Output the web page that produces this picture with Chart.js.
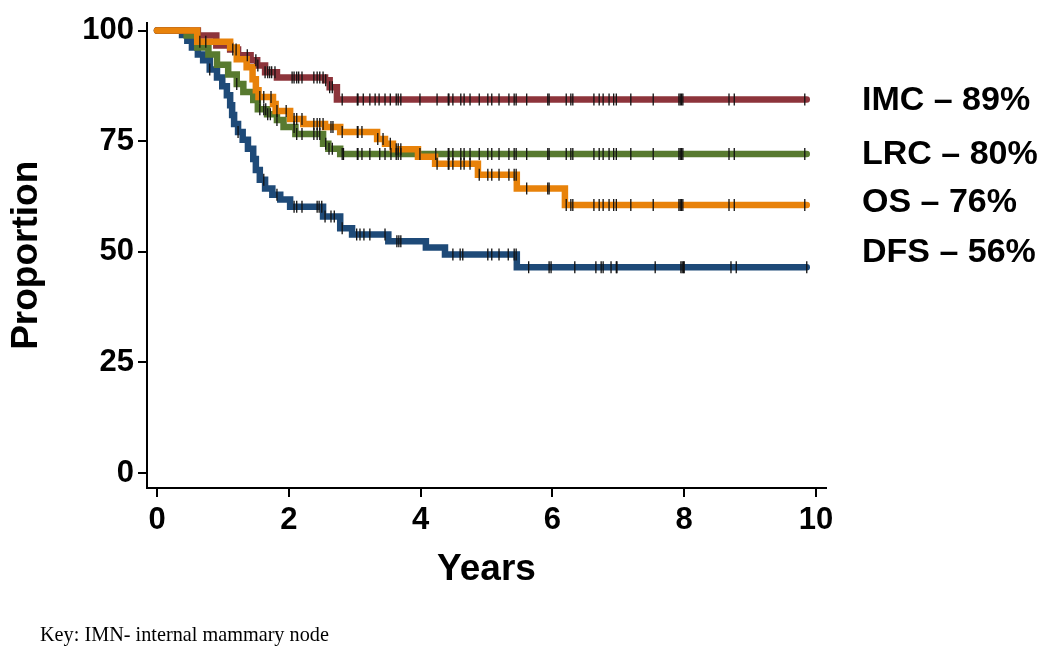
<!DOCTYPE html>
<html>
<head>
<meta charset="utf-8">
<script src="https://cdn.jsdelivr.net/npm/chart.js@4.4.1/dist/chart.umd.min.js"></script>
<style>
  html, body { margin: 0; padding: 0; background: #fff; }
  #wrap { position: relative; width: 1050px; height: 667px; }
  .lab { position: absolute; left: 862px; font-family: "Liberation Sans", Arial, sans-serif; font-weight: bold; font-size: 34px; line-height: 34px; color: #000; white-space: nowrap; }
  #key { position: absolute; left: 40px; top: 621px; font-family: "Liberation Serif", "Times New Roman", serif; font-size: 22px; color: #000; white-space: nowrap; transform: scaleX(0.92); transform-origin: left center; }
</style>
</head>
<body>
<div id="wrap">
  <canvas id="km" width="1050" height="667"></canvas>
  <div class="lab" style="top:81px">IMC – 89%</div>
  <div class="lab" style="top:135px">LRC – 80%</div>
  <div class="lab" style="top:183px">OS – 76%</div>
  <div class="lab" style="top:233px">DFS – 56%</div>
  <div id="key">Key: IMN- internal mammary node</div>
</div>
<script>
// step times (years) and survival (%) after each step
var imcTimes  = [0, 0.62, 0.90, 1.11, 1.23, 1.42, 1.52, 1.64, 1.82, 2.55, 2.62, 2.73, 9.86];
var imcValues = [100, 98.9, 96.6, 95.7, 94.4, 93.3, 92.1, 90.6, 89.4, 88.8, 87.2, 84.4, 84.4];

var lrcTimes  = [0, 0.45, 0.61, 0.78, 0.91, 1.08, 1.21, 1.31, 1.46, 1.53, 1.67, 1.82, 1.92, 2.10, 2.52, 2.60, 2.78, 9.86];
var lrcValues = [100, 98.9, 96.2, 94.6, 92.3, 90.1, 87.9, 86.1, 84.3, 82.2, 81.1, 79.8, 78.2, 76.6, 74.4, 73.3, 72.1, 72.1];

var osTimes  = [0, 0.61, 1.11, 1.21, 1.36, 1.45, 1.50, 1.54, 1.76, 1.80, 2.02, 2.22, 2.55, 2.78, 3.34, 3.46, 3.58, 3.96, 4.22, 4.87, 5.46, 6.19, 9.86];
var osValues = [100, 97.5, 96.2, 93.5, 91.7, 89.0, 86.5, 85.0, 83.4, 81.8, 80.0, 78.9, 78.2, 77.1, 75.5, 74.4, 73.2, 71.5, 69.9, 67.4, 64.3, 60.6, 60.6];

var dfsTimes  = [0, 0.38, 0.46, 0.53, 0.62, 0.70, 0.80, 0.91, 0.99, 1.06, 1.11, 1.14, 1.17, 1.23, 1.30, 1.38, 1.46, 1.50, 1.56, 1.64, 1.75, 1.87, 2.02, 2.52, 2.78, 2.96, 3.51, 4.08, 4.37, 5.46, 9.86];
var dfsValues = [100, 99.0, 97.7, 96.2, 94.6, 93.3, 91.2, 89.4, 87.4, 85.4, 83.1, 80.9, 78.9, 77.1, 75.3, 73.3, 71.0, 68.5, 66.3, 64.3, 62.9, 61.8, 60.2, 58.0, 55.3, 53.9, 52.4, 51.0, 49.4, 46.5, 46.5];

// censoring times (years)
var lateCensor = [4.42, 4.43, 4.49, 4.61, 4.66, 4.75, 4.89, 5.02, 5.08, 5.19, 5.34, 5.42, 5.45, 5.61, 5.93, 5.95, 6.21, 6.28, 6.31, 6.63, 6.71, 6.77, 6.86, 6.93, 6.97, 7.19, 7.53, 7.92, 7.94, 7.96, 7.98, 8.68, 8.76, 9.83];
var imcCensor = [1.15, 1.20, 1.37, 1.50, 1.53, 1.64, 1.68, 1.71, 1.74, 1.79, 2.05, 2.08, 2.12, 2.15, 2.20, 2.38, 2.43, 2.47, 2.52, 2.56, 2.62, 2.66, 2.81, 3.04, 3.05, 3.13, 3.23, 3.31, 3.37, 3.46, 3.54, 3.63, 3.66, 3.70, 3.99, 4.25];
var lrcCensor = [1.21, 1.56, 1.62, 1.65, 1.68, 1.72, 1.82, 2.08, 2.12, 2.20, 2.38, 2.43, 2.47, 2.56, 2.61, 2.66, 2.81, 2.83, 3.04, 3.05, 3.11, 3.23, 3.38, 3.46, 3.55, 3.63, 3.66, 3.70, 3.99, 4.23];
var osCensor  = [0.65, 0.74, 1.56, 1.62, 1.73, 1.82, 1.96, 2.08, 2.12, 2.20, 2.38, 2.43, 2.47, 2.52, 2.64, 2.67, 2.81, 3.04, 3.05, 3.11, 3.35, 3.43, 3.54, 3.63, 3.66, 3.70, 4.25];
var dfsCensor = [0.80, 1.23, 1.62, 1.82, 2.08, 2.12, 2.20, 2.43, 2.46, 2.50, 2.55, 2.64, 2.69, 2.81, 3.03, 3.08, 3.14, 3.23, 3.46, 3.64, 3.67, 3.70, 4.49, 4.60, 4.64, 5.02, 5.08, 5.19, 5.33, 5.42, 5.45, 5.64, 5.95, 5.98, 6.34, 6.66, 6.74, 6.77, 6.89, 6.97, 6.98, 7.56, 7.95, 7.97, 7.99, 8.00, 8.71, 8.79, 9.86];

var xTicks = [0, 2, 4, 6, 8, 10];
var yTicks = [0, 25, 50, 75, 100];

var RED = "#8D343B", ORANGE = "#E8820A", GREEN = "#587A30", BLUE = "#1E4A78";

function toPoints(times, values) {
	var pts = [];
	for (var i = 0; i < times.length; i++) pts.push({x: times[i], y: values[i]});
	return pts;
}

// value of the step curve at time t
function levelAt(times, values, t) {
	var v = values[0];
	for (var i = 0; i < times.length; i++) {
		if (times[i] <= t) v = values[i];
	}
	return v;
}

function censorPoints(times, values, cens) {
	return cens.map(function (t) { return {x: t, y: levelAt(times, values, t)}; });
}

function curve(label, times, values, color, order) {
	return {
		type: 'line', label: label, data: toPoints(times, values),
		borderColor: color, borderWidth: 6.5, stepped: true,
		borderCapStyle: 'round', borderJoinStyle: 'miter',
		pointRadius: 0, fill: false, order: order
	};
}

function marks(times, values, cens) {
	return {
		type: 'scatter', data: censorPoints(times, values, cens),
		pointStyle: 'line', rotation: 90, pointRadius: 6,
		borderColor: '#111', borderWidth: 1.3, order: 0
	};
}

var tickFont = {family: "'Liberation Sans', Arial, sans-serif", weight: 'bold', size: 31};
var titleFont = {family: "'Liberation Sans', Arial, sans-serif", weight: 'bold', size: 37};

var ctx = document.getElementById("km").getContext("2d");
var chart = new Chart(ctx, {
	type: 'line',
	data: {
		datasets: [
			marks(imcTimes, imcValues, imcCensor.concat(lateCensor)),
			marks(lrcTimes, lrcValues, lrcCensor.concat(lateCensor)),
			marks(osTimes, osValues, osCensor.concat(lateCensor)),
			marks(dfsTimes, dfsValues, dfsCensor),
			curve('OS', osTimes, osValues, ORANGE, 1),
			curve('IMC', imcTimes, imcValues, RED, 2),
			curve('LRC', lrcTimes, lrcValues, GREEN, 3),
			curve('DFS', dfsTimes, dfsValues, BLUE, 4)
		]
	},
	options: {
		responsive: false,
		animation: false,
		layout: {padding: {top: 20, left: 0, right: 224, bottom: 0}},
		plugins: {legend: {display: false}, tooltip: {enabled: false}},
		scales: {
			x: {
				type: 'linear', min: -0.152, max: 10.152,
				afterBuildTicks: function (s) { s.ticks = xTicks.map(function (v) { return {value: v}; }); },
				afterFit: function (s) { s.height = 179; },
				grid: {drawOnChartArea: false, drawTicks: true, tickLength: 9, color: '#000', lineWidth: 2},
				border: {display: true, color: '#000', width: 2},
				ticks: {color: '#000', font: tickFont, padding: 5, maxRotation: 0},
				title: {display: true, text: 'Years', color: '#000', font: titleFont, padding: {top: 0, bottom: 75}}
			},
			y: {
				type: 'linear', min: -3.37, max: 101.8,
				afterBuildTicks: function (s) { s.ticks = yTicks.map(function (v) { return {value: v}; }); },
				afterFit: function (s) { s.width = 147; },
				grid: {drawOnChartArea: false, drawTicks: true, tickLength: 9, color: '#000', lineWidth: 2},
				border: {display: true, color: '#000', width: 2},
				ticks: {color: '#000', font: tickFont, padding: 4},
				title: {display: true, text: 'Proportion', color: '#000', font: titleFont, padding: {top: 5, bottom: 0}}
			}
		}
	}
});
</script>
</body>
</html>
